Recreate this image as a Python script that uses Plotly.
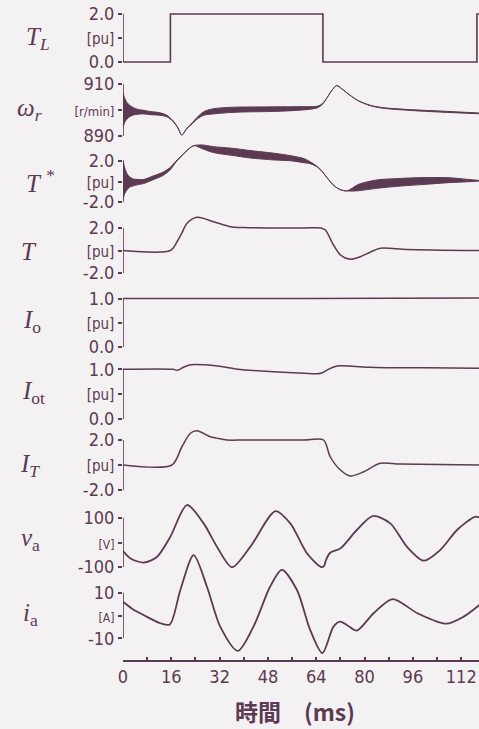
import plotly.graph_objects as go

# ---------------- data (time in ms) ----------------
t_TL = [0, 15.7, 66.2, 117.2, 118]
TL = [0.0, 2.0, 0.0, 2.0, 2.0]

t_wr = [0, 0.5, 1.3, 2.2, 3.5, 5, 6.8, 9, 12, 14.5, 16.5, 18, 19.5, 21, 23, 25, 27, 30,
        35, 40, 48, 56, 62, 64.5, 66, 67.5, 69, 70.8, 72.5, 75, 78, 82, 86, 95, 105, 118]
wr_mid = [900.0, 899.9, 899.7, 899.6, 899.5, 899.3, 899.2, 898.8, 898.5, 897.7, 895.8, 893.5,
          890.4, 892.7, 895.0, 897.3, 898.8, 899.5, 900.0, 900.2, 900.3, 900.5, 900.8, 901.2,
          902.3, 904.6, 907.3, 909.4, 908.1, 905.8, 903.5, 901.7, 900.8, 900.0, 899.4, 898.7]
wr_ripple = [6.9, 4.8, 3.2, 2.2, 1.4, 0.9, 0.7, 0.6, 0.5, 0.3, 0.15, 0.08, 0.0, 0.08, 0.2, 0.4,
             0.7, 1.0, 1.0, 0.95, 0.9, 0.75, 0.5, 0.3, 0.15, 0.04, 0, 0, 0, 0, 0, 0.08, 0.12,
             0.15, 0.2, 0.15]

t_Ts = [0, 0.5, 1.3, 2.2, 3.5, 5, 6.8, 10, 13, 15.5, 17.5, 20, 22, 23.5, 26, 30, 36, 42, 50,
        56, 60, 62, 64, 66, 68, 70, 72, 74, 76, 78, 84, 92, 100, 108, 114, 118]
Ts_mid = [0.15, 0.09, -0.02, -0.05, -0.09, -0.05, 0.0, 0.36, 0.71, 1.22, 1.93, 2.69, 3.24, 3.50,
          3.40, 3.11, 2.90, 2.66, 2.43, 2.25, 2.03, 1.83, 1.51, 0.96, 0.21, -0.44, -0.80, -0.92,
          -0.78, -0.59, -0.26, -0.07, 0.05, 0.13, 0.09, 0.07]
Ts_ripple = [1.95, 1.3, 0.8, 0.5, 0.33, 0.25, 0.2, 0.18, 0.16, 0.12, 0.04, 0.02, 0, 0, 0.17,
             0.29, 0.35, 0.36, 0.33, 0.24, 0.2, 0.09, 0.03, 0, 0, 0, 0, 0, 0.15, 0.31, 0.41,
             0.37, 0.33, 0.24, 0.12, 0.03]

t_T = [0, 15.7, 17.9, 19.5, 21.2, 24.5, 30, 35.5, 40, 50, 60, 65.5, 67, 69.7, 72, 75.3, 78.6,
       82, 85.2, 94, 118]
T = [0, 0, 0.78, 1.56, 2.42, 2.95, 2.56, 2.12, 2.04, 2.0, 2.0, 2.0, 1.82, 0.49, -0.4, -0.78,
     -0.55, -0.13, 0.2, 0.1, 0.0]

t_Io = [0, 60, 118]
Io = [1.0, 1.0, 1.01]

t_Iot = [0, 16.5, 18, 20, 22.5, 27, 32, 38, 50, 60, 64.5, 66, 68, 70, 72, 76, 82, 90, 100, 118]
Iot = [1.0, 1.0, 0.98, 1.04, 1.09, 1.09, 1.06, 1.0, 0.95, 0.92, 0.91, 0.93, 1.0, 1.05, 1.07,
       1.06, 1.04, 1.03, 1.03, 1.02]

t_IT = [0, 16.2, 19.5, 22.3, 24.5, 28.9, 31, 34.4, 40, 50, 60, 66.4, 68.6, 72, 75.3, 79.7,
        85.2, 91.8, 118]
IT = [0, 0, 1.46, 2.54, 2.74, 2.26, 2.15, 2.0, 2.0, 2.0, 2.0, 2.0, 0.66, -0.4, -0.88, -0.54,
      0.14, 0.08, 0.0]

t_va = [0, 2.5, 6.9, 11.3, 15.7, 21.2, 26.7, 31.1, 36.1, 42.2, 50.5, 55.4, 60.9, 65.6, 66.6,
        67.2, 68.6, 72, 77.4, 82.7, 88.5, 94, 99.6, 105, 110.6, 116.5, 118]
va = [-35, -65, -82, -58, 24, 153, 78, -17, -101, -17, 128, 78, -44, -100, -95, -72, -42, -24,
      51, 108, 78, -17, -74, -31, 51, 105, 103]

t_ia = [0, 3, 6.8, 12.4, 15.5, 19, 23.4, 27.8, 32.2, 38, 43.2, 48.7, 52.6, 57.6, 62, 66,
        69.7, 71.9, 74.5, 77.4, 83, 89.3, 97.5, 107, 112.8, 118]
ia = [6.0, 3.0, 0.2, -3.4, -3.9, 11.2, 26.5, 12.6, -4.9, -15.5, -4.9, 12.6, 20, 11.2, -6.4,
      -16.5, -4.9, -2.7, -4.5, -6.6, 1, 7.2, 1, -3.6, -0.5, 4.6]

x_ticks = [0, 16, 32, 48, 64, 80, 96, 112]
x_ticktext = ["0", "16", "32", "48", "64", "80", "96", "112"]

# ---------------- style / layout ----------------
INK = "#5b3a52"
BG = "#f4f1f3"
W, H = 479, 729
ML, MB = 123, 68
PLOT_H = H - MB
PLOT_W = W - ML
NUMFONT = "Liberation Sans Narrow, DejaVu Sans Condensed, Liberation Sans, sans-serif"

# panels: (axis, v_lo, v_hi, mid, lo label, unit, hi label, px_lo, px_hi, dom_top, dom_bot, unit size)
panels = [
    ("y",  0, 2, 1, "0.0", "[pu]", "2.0", 62, 14, 4, 70, 15),
    ("y2", 890, 910, 900, "890", "[r/min]", "910", 136, 84, 74, 142, 13),
    ("y3", -2, 2, 0, "-2.0", "[pu]", "2.0", 202, 161, 138, 210, 15),
    ("y4", -2, 2, 0, "-2.0", "[pu]", "2.0", 273, 228, 208, 280, 15),
    ("y5", 0, 1, 0.5, "0.0", "[pu]", "1.0", 347, 298.5, 288, 352, 15),
    ("y6", 0, 1, 0.5, "0.0", "[pu]", "1.0", 419, 369.3, 356, 424, 15),
    ("y7", -2, 2, 0, "-2.0", "[pu]", "2.0", 490, 440, 422, 496, 15),
    ("y8", -100, 100, 0, "-100", "[V]", "100", 567, 518, 495, 575, 12),
    ("y9", -10, 10, 0, "-10", "[A]", "10", 638.3, 592.7, 545, 661, 12),
]

fig = go.Figure()

def line(x, y, ax, width=1.6, fill=None):
    return go.Scatter(x=x, y=y, mode="lines", xaxis="x", yaxis=ax, fill=fill,
                      fillcolor=INK, hoverinfo="skip", showlegend=False,
                      line=dict(color=INK, width=width, shape="spline", smoothing=0.8))

fig.add_trace(go.Scatter(x=t_TL, y=TL, mode="lines", xaxis="x", yaxis="y", showlegend=False,
                         line=dict(color=INK, width=1.6, shape="hv")))

wr_lo = [c - h for c, h in zip(wr_mid, wr_ripple)]
wr_hi = [c + h for c, h in zip(wr_mid, wr_ripple)]
fig.add_trace(line(t_wr, wr_lo, "y2", 1.0))
fig.add_trace(line(t_wr, wr_hi, "y2", 1.0, fill="tonexty"))

Ts_lo = [c - h for c, h in zip(Ts_mid, Ts_ripple)]
Ts_hi = [c + h for c, h in zip(Ts_mid, Ts_ripple)]
fig.add_trace(line(t_Ts, Ts_lo, "y3", 1.0))
fig.add_trace(line(t_Ts, Ts_hi, "y3", 1.0, fill="tonexty"))

fig.add_trace(line(t_T, T, "y4", 1.5))
fig.add_trace(line(t_Io, Io, "y5", 1.5))
fig.add_trace(line(t_Iot, Iot, "y6", 1.5))
fig.add_trace(line(t_IT, IT, "y7", 1.5))
fig.add_trace(line(t_va, va, "y8", 1.8))
fig.add_trace(line(t_ia, ia, "y9", 1.8))

layout = dict(
    width=W, height=H,
    margin=dict(l=ML, r=0, t=0, b=MB),
    paper_bgcolor=BG, plot_bgcolor="rgba(0,0,0,0)",
    showlegend=False,
    xaxis=dict(range=[0, PLOT_W / 3.02], anchor="free", position=0, domain=[0, 1],
               showline=True, linecolor=INK, linewidth=1.6, showgrid=False, zeroline=False,
               tickvals=x_ticks, ticktext=x_ticktext, ticks="inside", ticklen=3,
               tickcolor=INK, tickwidth=2,
               minor=dict(dtick=8, tick0=0, ticks="inside", ticklen=3, tickwidth=2,
                          tickcolor=INK, showgrid=False),
               tickfont=dict(family=NUMFONT, size=18, color=INK)),
)

shapes = []
for ax, vlo, vhi, vmid, tlo, unit, thi, plo, phi, dtop, dbot, usz in panels:
    ppu = (plo - phi) / (vhi - vlo)
    r_lo = vlo - (dbot - plo) / ppu
    r_hi = vhi + (phi - dtop) / ppu
    dom = [(PLOT_H - dbot) / PLOT_H, (PLOT_H - dtop) / PLOT_H]
    key = "yaxis" if ax == "y" else "yaxis" + ax[1:]
    layout[key] = dict(
        domain=dom, range=[r_lo, r_hi], anchor="x", side="left",
        showgrid=False, zeroline=False, showline=False,
        tickvals=[vlo, vmid, vhi],
        ticktext=[tlo, '<span style="font-size:%dpx">%s</span>' % (usz, unit), thi],
        ticks="outside", ticklen=4, tickwidth=1.5, tickcolor=INK,
        tickfont=dict(family=NUMFONT, size=18, color=INK),
        fixedrange=True,
    )
    shapes.append(dict(type="line", xref="x", yref=ax, x0=0, x1=0, y0=vlo, y1=vhi,
                       line=dict(color=INK, width=1.6)))

layout["shapes"] = shapes

def px2paper(px, py):
    return (px - ML) / PLOT_W, (PLOT_H - py) / PLOT_H

names = [
    ("<i>T</i><sub><i>L</i></sub>", 38, 38),
    ("<i>ω</i><sub><i>r</i></sub>", 30, 110),
    ("<i>T</i> <sup>*</sup>", 40, 181),
    ("<i>T</i>", 29, 251),
    ("<i>I</i><sub>o</sub>", 32, 321),
    ("<i>I</i><sub>ot</sub>", 33, 392),
    ("<i>I</i><sub><i>T</i></sub>", 30, 465),
    ("<i>v</i><sub>a</sub>", 31, 539),
    ("<i>i</i><sub>a</sub>", 31, 614),
]
ann = []
for txt, px, py in names:
    x, y = px2paper(px, py)
    ann.append(dict(text=txt, x=x, y=y, xref="paper", yref="paper", showarrow=False,
                    xanchor="center", yanchor="middle",
                    font=dict(family="Liberation Serif, DejaVu Serif, serif", size=25, color=INK)))
x, y = px2paper(295, 711)
ann.append(dict(text="<b>時間　(ms)</b>", x=x, y=y, xref="paper", yref="paper", showarrow=False,
                xanchor="center", yanchor="middle",
                font=dict(family="Noto Sans CJK JP, sans-serif", size=23, color=INK)))
layout["annotations"] = ann

fig.update_layout(**layout)
fig.write_html(
    "out.html",
    config={"displayModeBar": False},
    post_script="document.body.style.margin='0';document.body.style.overflow='hidden';"
                "document.documentElement.style.overflow='hidden';"
                "document.body.style.background='" + BG + "';",
)
